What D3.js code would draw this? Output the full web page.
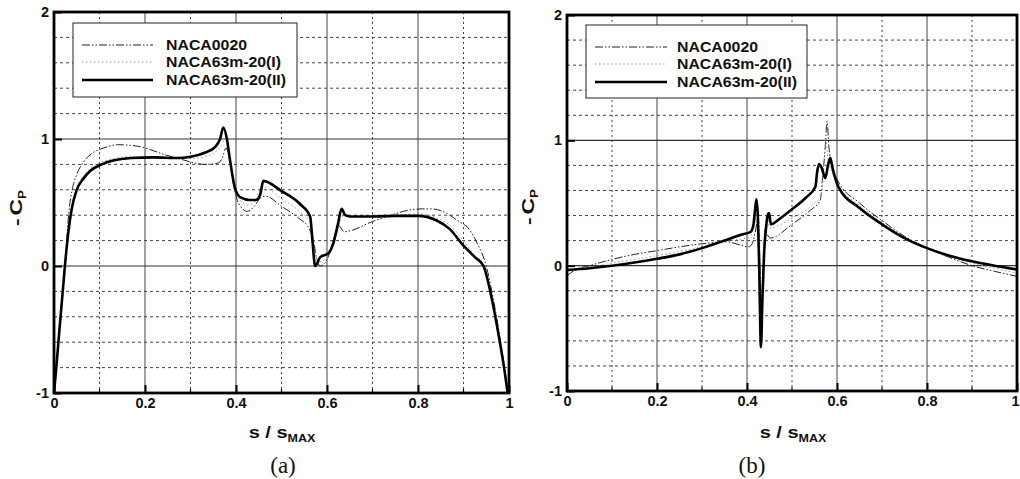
<!DOCTYPE html>
<html>
<head>
<meta charset="utf-8">
<script src="https://cdn.jsdelivr.net/npm/d3@7"></script>
<style>
  body { margin: 0; background: #fff; }
  svg text { font-family: "Liberation Sans", Arial, sans-serif; font-weight: bold; fill: #111; }
</style>
</head>
<body>
<div id="chart"></div>
<script>
// series names (legend order)
var seriesNames = ["NACA0020", "NACA63m-20(I)", "NACA63m-20(II)"];
var xTicks = [0, 0.2, 0.4, 0.6, 0.8, 1];
var yTicks = [-1, 0, 1, 2];
var xTickLabels = ["0", "0.2", "0.4", "0.6", "0.8", "1"];
var yTickLabels = ["-1", "0", "1", "2"];

// panel (a): [s/smax, -Cp]
var a0020 = [[0, -1], [0.006, -0.75], [0.013, -0.45], [0.02, -0.15], [0.026, 0.1], [0.032, 0.4], [0.04, 0.6],
  [0.05, 0.72], [0.065, 0.82], [0.085, 0.89], [0.11, 0.93], [0.14, 0.955], [0.17, 0.95], [0.2, 0.93],
  [0.24, 0.88], [0.27, 0.85], [0.3, 0.82], [0.33, 0.8], [0.36, 0.81], [0.37, 0.85], [0.378, 0.93],
  [0.385, 0.85], [0.395, 0.63], [0.405, 0.5], [0.425, 0.43], [0.44, 0.47], [0.455, 0.54], [0.465, 0.55],
  [0.5, 0.47], [0.54, 0.37], [0.56, 0.3], [0.57, 0.2], [0.578, 0.05], [0.585, 0.0], [0.6, 0.05],
  [0.612, 0.18], [0.625, 0.32], [0.638, 0.27], [0.7, 0.35], [0.74, 0.4], [0.78, 0.44], [0.81, 0.45],
  [0.83, 0.45], [0.86, 0.42], [0.89, 0.35], [0.91, 0.3], [0.93, 0.18], [0.95, 0], [0.965, -0.25],
  [0.975, -0.45], [0.985, -0.68], [0.993, -0.88], [0.998, -1]];
var a63I = [[0, -1], [0.005, -0.8], [0.012, -0.5], [0.018, -0.25], [0.024, 0], [0.03, 0.22], [0.039, 0.46],
  [0.05, 0.62], [0.065, 0.71], [0.08, 0.77], [0.105, 0.82], [0.13, 0.845], [0.17, 0.86], [0.22, 0.86],
  [0.27, 0.85], [0.3, 0.845], [0.33, 0.86], [0.355, 0.9], [0.368, 0.95], [0.376, 1.0], [0.383, 0.92],
  [0.392, 0.7], [0.403, 0.55], [0.425, 0.48], [0.44, 0.5], [0.45, 0.58], [0.458, 0.62], [0.5, 0.53],
  [0.54, 0.43], [0.565, 0.33], [0.572, 0.18], [0.58, 0.03], [0.59, 0.04], [0.605, 0.09], [0.618, 0.2],
  [0.63, 0.36], [0.64, 0.4], [0.65, 0.39], [0.7, 0.39], [0.75, 0.4], [0.8, 0.41], [0.84, 0.38],
  [0.87, 0.32], [0.9, 0.2], [0.925, 0.08], [0.946, 0], [0.962, -0.24], [0.972, -0.42], [0.982, -0.63],
  [0.991, -0.84], [0.997, -1]];
var a63II = [[0, -1], [0.005, -0.8], [0.012, -0.5], [0.018, -0.25], [0.024, 0], [0.03, 0.22], [0.039, 0.45],
  [0.05, 0.6], [0.065, 0.69], [0.08, 0.75], [0.105, 0.8], [0.13, 0.83], [0.17, 0.85], [0.22, 0.855],
  [0.27, 0.85], [0.3, 0.86], [0.33, 0.89], [0.355, 0.94], [0.365, 1.0], [0.372, 1.09], [0.38, 1.0],
  [0.387, 0.83], [0.398, 0.61], [0.41, 0.54], [0.43, 0.52], [0.444, 0.52], [0.453, 0.56], [0.46, 0.67],
  [0.5, 0.59], [0.54, 0.49], [0.563, 0.39], [0.568, 0.2], [0.574, 0.0], [0.585, 0.07], [0.603, 0.1],
  [0.614, 0.18], [0.624, 0.33], [0.632, 0.45], [0.64, 0.4], [0.65, 0.39], [0.7, 0.39], [0.75, 0.395],
  [0.8, 0.395], [0.84, 0.36], [0.87, 0.29], [0.9, 0.16], [0.925, 0.07], [0.944, 0], [0.96, -0.22],
  [0.97, -0.4], [0.98, -0.6], [0.99, -0.82], [0.997, -1]];

// panel (b)
var b0020 = [[0, -0.08], [0.02, -0.03], [0.05, 0.0], [0.1, 0.05], [0.15, 0.09], [0.2, 0.12], [0.25, 0.15],
  [0.3, 0.175], [0.356, 0.19], [0.38, 0.17], [0.404, 0.15], [0.412, 0.18], [0.42, 0.3], [0.425, 0.4],
  [0.428, 0.1], [0.432, -0.3], [0.436, 0.0], [0.44, 0.3], [0.445, 0.25], [0.452, 0.22], [0.5, 0.33],
  [0.54, 0.44], [0.563, 0.525], [0.568, 0.7], [0.574, 0.95], [0.578, 1.15], [0.582, 0.95], [0.59, 0.78],
  [0.6, 0.69], [0.65, 0.5], [0.7, 0.36], [0.75, 0.235], [0.8, 0.14], [0.85, 0.065], [0.9, 0.0],
  [0.95, -0.045], [1.0, -0.085]];
var b63I = [[0, -0.05], [0.1, 0.02], [0.2, 0.08], [0.3, 0.15], [0.36, 0.2], [0.4, 0.22], [0.41, 0.25],
  [0.418, 0.35], [0.424, 0.45], [0.428, 0.2], [0.432, -0.4], [0.436, 0.0], [0.44, 0.3], [0.444, 0.42],
  [0.45, 0.3], [0.5, 0.38], [0.55, 0.5], [0.565, 0.56], [0.57, 0.75], [0.575, 1.0], [0.58, 0.85],
  [0.59, 0.74], [0.6, 0.66], [0.65, 0.48], [0.7, 0.345], [0.75, 0.23], [0.8, 0.14], [0.85, 0.07],
  [0.9, 0.02], [0.95, -0.02], [1.0, -0.06]];
var b63II = [[0, -0.035], [0.05, -0.02], [0.1, 0], [0.15, 0.025], [0.2, 0.055], [0.25, 0.09], [0.3, 0.14],
  [0.35, 0.2], [0.385, 0.245], [0.408, 0.27], [0.414, 0.32], [0.418, 0.45], [0.421, 0.53], [0.424, 0.4],
  [0.427, 0.0], [0.431, -0.65], [0.434, -0.3], [0.438, 0.1], [0.442, 0.29], [0.446, 0.4], [0.449, 0.42],
  [0.453, 0.33], [0.475, 0.38], [0.5, 0.45], [0.53, 0.54], [0.552, 0.63], [0.556, 0.75], [0.56, 0.81],
  [0.566, 0.78], [0.574, 0.7], [0.58, 0.8], [0.585, 0.86], [0.59, 0.78], [0.603, 0.63], [0.65, 0.46],
  [0.7, 0.33], [0.75, 0.22], [0.8, 0.14], [0.85, 0.08], [0.9, 0.035], [0.95, 0.0], [1.0, -0.03]];

var svg = d3.select("#chart").append("svg").attr("width", 1020).attr("height", 479);

// line styles for the three series
var styles = [
  { stroke: "#222", width: 1, dash: "8,2,1.5,2,1.5,2" },
  { stroke: "#9a9a9a", width: 1, dash: "1.5,2.5" },
  { stroke: "#000", width: 2.6, dash: null }
];
var legendWidths = [81, 115, 120];

function drawPanel(p) {
  var x = d3.scaleLinear().domain([0, 1]).range([p.left, p.right]);
  var y = d3.scaleLinear().domain([-1, 2]).range([p.bottom, p.top]);
  var g = svg.append("g");

  // dotted minor grid
  var xMinor = d3.range(0.1, 1, 0.2);
  var yMinor = d3.range(-0.8, 2, 0.2).filter(function (v) { return Math.abs(v - Math.round(v)) > 0.05; });
  g.selectAll(".gx").data(xMinor).enter().append("line")
    .attr("x1", x).attr("x2", x).attr("y1", p.top).attr("y2", p.bottom)
    .attr("stroke", "#444").attr("stroke-width", 1).attr("stroke-dasharray", "2,3");
  g.selectAll(".gy").data(yMinor).enter().append("line")
    .attr("y1", y).attr("y2", y).attr("x1", p.left).attr("x2", p.right)
    .attr("stroke", "#444").attr("stroke-width", 1).attr("stroke-dasharray", "3,3");
  // solid major grid
  g.selectAll(".mx").data([0.2, 0.4, 0.6, 0.8]).enter().append("line")
    .attr("x1", x).attr("x2", x).attr("y1", p.top).attr("y2", p.bottom)
    .attr("stroke", "#444").attr("stroke-width", 1);
  g.selectAll(".my").data([0, 1]).enter().append("line")
    .attr("y1", y).attr("y2", y).attr("x1", p.left).attr("x2", p.right)
    .attr("stroke", "#333").attr("stroke-width", 1.2);

  // curves
  var line = d3.line().x(function (d) { return x(d[0]); }).y(function (d) { return y(d[1]); })
    .curve(d3.curveMonotoneX);
  [0, 1, 2].forEach(function (i) {
    g.append("path").datum(p.series[i])
      .attr("fill", "none")
      .attr("stroke", styles[i].stroke)
      .attr("stroke-width", styles[i].width)
      .attr("stroke-dasharray", styles[i].dash)
      .attr("stroke-linejoin", "round")
      .attr("d", line);
  });

  // axes (inward ticks)
  var xAxis = d3.axisBottom(x).tickValues(xTicks).tickSizeInner(-8).tickSizeOuter(0).tickPadding(5)
    .tickFormat(function (d, i) { return xTickLabels[i]; });
  var ax = g.append("g").attr("transform", "translate(0," + p.bottom + ")").call(xAxis);
  var yAxis = d3.axisLeft(y).tickValues(yTicks).tickSizeInner(-8).tickSizeOuter(0).tickPadding(5)
    .tickFormat(function (d, i) { return yTickLabels[i]; });
  var ay = g.append("g").attr("transform", "translate(" + p.left + ",0)").call(yAxis);
  [ax, ay].forEach(function (a) {
    a.select(".domain").remove();
    a.selectAll(".tick line").attr("stroke", "#000").attr("stroke-width", 2);
    a.selectAll("text").style("font-size", "14.5px").style("font-family", "'Liberation Sans', Arial")
      .style("font-weight", "bold").attr("fill", "#111");
  });
  // keep the last x label inside the page
  ax.selectAll(".tick text").filter(function (d) { return d === 1; })
    .attr("text-anchor", p.lastAnchor).attr("x", p.lastDx);
  // minor inward ticks at 0.1
  g.selectAll(".mt").data(xMinor).enter().append("line")
    .attr("x1", x).attr("x2", x).attr("y1", p.bottom).attr("y2", p.bottom - 4)
    .attr("stroke", "#000").attr("stroke-width", 1.2);

  // frame
  g.append("rect").attr("x", p.left).attr("y", p.top)
    .attr("width", p.right - p.left).attr("height", p.bottom - p.top)
    .attr("fill", "none").attr("stroke", "#000").attr("stroke-width", 2.8);

  // legend
  var L = p.legend;
  g.append("rect").attr("x", L.x).attr("y", L.y).attr("width", L.w).attr("height", L.h)
    .attr("fill", "#fff").attr("stroke", "#222").attr("stroke-width", 1);
  seriesNames.forEach(function (name, i) {
    var yy = L.rows[i];
    g.append("line").attr("x1", L.lx1).attr("x2", L.lx2).attr("y1", yy).attr("y2", yy)
      .attr("stroke", styles[i].stroke).attr("stroke-width", styles[i].width)
      .attr("stroke-dasharray", styles[i].dash);
    g.append("text").attr("x", L.tx).attr("y", yy + 5).style("font-size", "15px")
      .attr("textLength", legendWidths[i]).attr("lengthAdjust", "spacingAndGlyphs").text(name);
  });

  // axis titles (stretched wide like the original)
  var yl = g.append("text")
    .attr("transform", "translate(" + p.ylabX + "," + p.ylabY + ") rotate(-90) scale(1.35,1)")
    .attr("text-anchor", "middle").style("font-size", "17px");
  yl.append("tspan").text("-");
  yl.append("tspan").attr("dx", 2).text("C");
  yl.append("tspan").attr("dy", 4).style("font-size", "10px").text("P");

  var xl = g.append("text")
    .attr("transform", "translate(" + p.xlabX + ",438) scale(1.25,1)")
    .attr("text-anchor", "middle").style("font-size", "16px");
  xl.append("tspan").text("s / s");
  xl.append("tspan").attr("dy", 4).style("font-size", "10px").text("MAX");

  g.append("text").attr("x", p.capX).attr("y", 473).attr("text-anchor", "middle")
    .style("font-family", "'Liberation Serif', 'Times New Roman', serif")
    .style("font-weight", "normal").style("font-size", "23px").text(p.caption);
}

drawPanel({
  left: 54, right: 509, top: 12, bottom: 393,
  series: [a0020, a63I, a63II],
  legend: { x: 73, y: 23, w: 224, h: 74, rows: [45, 62, 80], lx1: 82, lx2: 153, tx: 166 },
  ylabX: 22, ylabY: 208, xlabX: 282, capX: 283, caption: "(a)",
  lastAnchor: "middle", lastDx: 0
});
drawPanel({
  left: 567, right: 1017, top: 15, bottom: 391,
  series: [b0020, b63I, b63II],
  legend: { x: 586, y: 25, w: 221, h: 73, rows: [47, 64, 82], lx1: 595, lx2: 667, tx: 677 },
  ylabX: 534, ylabY: 207, xlabX: 793, capX: 752, caption: "(b)",
  lastAnchor: "end", lastDx: 2
});
</script>
</body>
</html>
